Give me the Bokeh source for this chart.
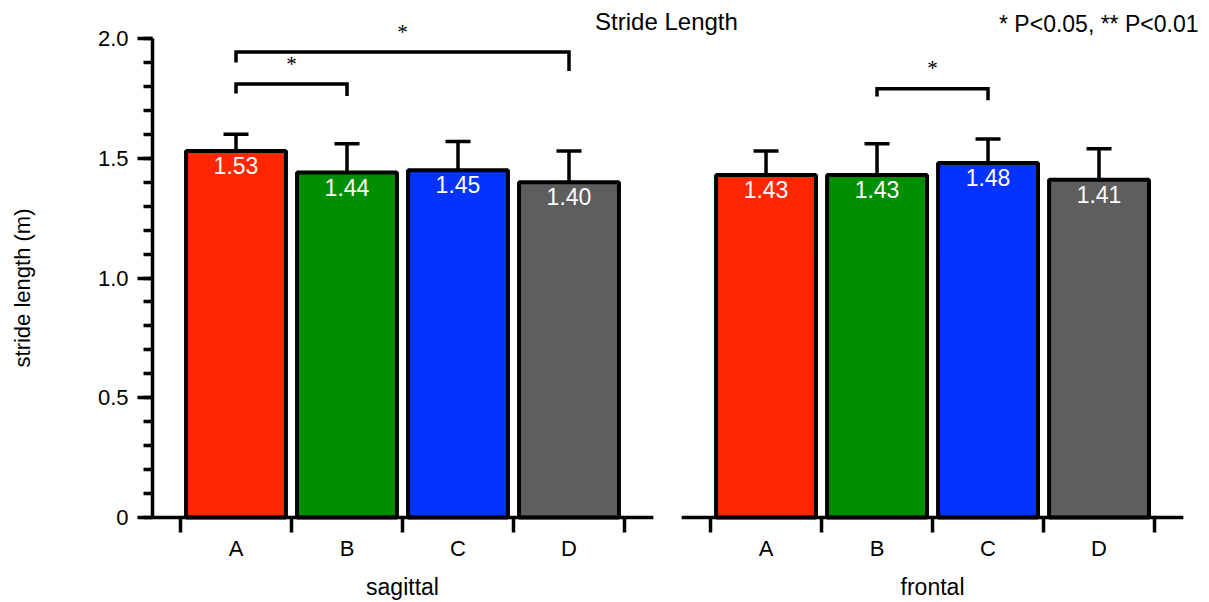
from bokeh.plotting import figure
from bokeh.models import (Range1d, LinearAxis, FixedTicker, SingleIntervalTicker,
                          ColumnDataSource, Whisker, TeeHead, Label, LabelSet)
from bokeh.core.properties import value
from bokeh.embed import file_html
from bokeh.resources import INLINE

# ---------------- data ----------------
planes = ["sagittal", "frontal"]
conditions = ["A", "B", "C", "D"]
sagittal_mean = [1.53, 1.44, 1.45, 1.40]
sagittal_sd = [0.07, 0.12, 0.12, 0.13]
frontal_mean = [1.43, 1.43, 1.48, 1.41]
frontal_sd = [0.10, 0.13, 0.10, 0.13]
bar_colors = ["#FF2600", "#008F00", "#0433FF", "#5E5E5E"]

y_ticks = [0, 0.5, 1.0, 1.5, 2.0]
y_tick_labels = ["0", "0.5", "1.0", "1.5", "2.0"]

# significance brackets
sig_plane = ["sagittal", "sagittal", "frontal"]
sig_from = ["A", "A", "B"]
sig_to = ["B", "D", "C"]
sig_level = [1.81, 1.943, 1.79]
sig_left_end = [1.77, 1.90, 1.758]
sig_right_end = [1.76, 1.864, 1.742]
sig_mark = ["*", "*", "*"]

title_text = "Stride Length"
note_text = "* P<0.05, ** P<0.01"
y_label = "stride length (m)"

# ---------------- layout ----------------
FONT = "Liberation Sans"
PX_X = 111.0   # pixels per category slot
PX_Y = 240.0   # pixels per metre
group_start = {"sagittal": 0.0, "frontal": 4.775}
AXIS_LEFT, AXIS_RIGHT = -0.26, 4.26      # x-axis segment extent around each group
TICK_LEN = 15 / PX_Y
BAR_WIDTH = 0.9
STAR_GAP = 0.085
LETTER_Y = -31 / PX_Y

means = {"sagittal": sagittal_mean, "frontal": frontal_mean}
sds = {"sagittal": sagittal_sd, "frontal": frontal_sd}

x, top, upper, color, label, letter = [], [], [], [], [], []
for plane in planes:
    for i, c in enumerate(conditions):
        x.append(group_start[plane] + i + 0.5)
        top.append(means[plane][i])
        upper.append(means[plane][i] + sds[plane][i])
        color.append(bar_colors[i])
        label.append(f"{means[plane][i]:.2f}")
        letter.append(c)
bars = ColumnDataSource(dict(x=x, top=top, upper=upper, color=color,
                             label=label, letter=letter))

p = figure(width=1209, height=602,
           x_range=Range1d(-28 / PX_X, 1020 / PX_X),
           y_range=Range1d(-50 / PX_Y, 2 + 30 / PX_Y),
           x_axis_type=None, y_axis_type=None,
           toolbar_location=None, output_backend="svg",
           min_border_left=152, min_border_right=9,
           min_border_top=8, min_border_bottom=34)
p.outline_line_color = None

# bars
p.vbar(x="x", width=BAR_WIDTH, top="top", bottom=0, source=bars,
       fill_color="color", line_color="black", line_width=4)

# error bars (upper SD only)
p.add_layout(Whisker(base="x", lower="top", upper="upper", source=bars,
                     line_color="black", line_width=3.5,
                     upper_head=TeeHead(size=25, line_color="black", line_width=3.5),
                     lower_head=None))

# value labels inside bars
p.text(x="x", y="top", text="label", source=bars, text_color="white",
       text_font=value(FONT), text_font_size="23px",
       text_align="center", text_baseline="top", y_offset=6)

# broken x axis: one baseline per plane with ticks at slot boundaries
ax_x0 = [group_start[pl] + AXIS_LEFT for pl in planes]
ax_x1 = [group_start[pl] + AXIS_RIGHT for pl in planes]
p.segment(x0=ax_x0, y0=[0] * len(planes), x1=ax_x1, y1=[0] * len(planes),
          line_color="black", line_width=3.5)
tick_x = [group_start[pl] + k for pl in planes for k in range(len(conditions) + 1)]
p.segment(x0=tick_x, y0=[0] * len(tick_x), x1=tick_x, y1=[-TICK_LEN] * len(tick_x),
          line_color="black", line_width=3.5)

# condition letters under each bar
p.text(x="x", y=LETTER_Y, text="letter", source=bars, text_color="black",
       text_font=value(FONT), text_font_size="22px",
       text_align="center", text_baseline="middle")

# plane names on an axis of their own
plane_centers = [group_start[pl] + len(conditions) / 2 for pl in planes]
plane_axis = LinearAxis(ticker=FixedTicker(ticks=plane_centers),
                        major_label_overrides=dict(zip(plane_centers, planes)),
                        axis_line_color=None, major_tick_line_color=None,
                        minor_tick_line_color=None, major_tick_out=0, major_tick_in=0,
                        major_label_standoff=6, major_label_text_font=FONT,
                        major_label_text_font_size="23px", major_label_text_color="black")
p.add_layout(plane_axis, "below")

# y axis
yaxis = LinearAxis(bounds=(0, 2), ticker=SingleIntervalTicker(interval=0.5, num_minor_ticks=5),
                   major_label_overrides=dict(zip(y_ticks, y_tick_labels)),
                   axis_label=y_label, axis_label_standoff=60,
                   axis_label_text_font=FONT, axis_label_text_font_size="22px",
                   axis_label_text_font_style="normal", axis_label_text_color="black",
                   major_label_text_font=FONT, major_label_text_font_size="22px",
                   major_label_text_color="black", major_label_standoff=9,
                   axis_line_width=3.5, axis_line_color="black",
                   major_tick_line_width=3.5, major_tick_line_color="black",
                   minor_tick_line_width=3.5, minor_tick_line_color="black",
                   major_tick_out=15, major_tick_in=0, minor_tick_out=9, minor_tick_in=0)
p.add_layout(yaxis, "left")

# significance brackets and marks
bx, by, sx, sy = [], [], [], []
for pl, a, b, lvl, le, re in zip(sig_plane, sig_from, sig_to, sig_level,
                                 sig_left_end, sig_right_end):
    xa = group_start[pl] + conditions.index(a) + 0.5
    xb = group_start[pl] + conditions.index(b) + 0.5
    bx.append([xa, xa, xb, xb])
    by.append([le, lvl, lvl, re])
    sx.append((xa + xb) / 2)
    sy.append(lvl + STAR_GAP)
p.multi_line(xs=bx, ys=by, line_color="black", line_width=3.5, line_join="miter")
stars = ColumnDataSource(dict(x=sx, y=sy, text=sig_mark))
p.add_layout(LabelSet(x="x", y="y", text="text", source=stars, text_align="center",
                      text_baseline="middle", text_font=FONT, text_font_size="21px",
                      text_color="black"))

# title and significance note
p.add_layout(Label(x=(666 - 180) / PX_X, y=(518 - 21) / PX_Y, text=title_text,
                   text_align="center", text_baseline="middle",
                   text_font=FONT, text_font_size="24px", text_color="black"))
p.add_layout(Label(x=(1198 - 180) / PX_X, y=(518 - 24) / PX_Y, text=note_text,
                   text_align="right", text_baseline="middle",
                   text_font=FONT, text_font_size="23px", text_color="black"))

open("out.html", "w").write(file_html(p, INLINE))
